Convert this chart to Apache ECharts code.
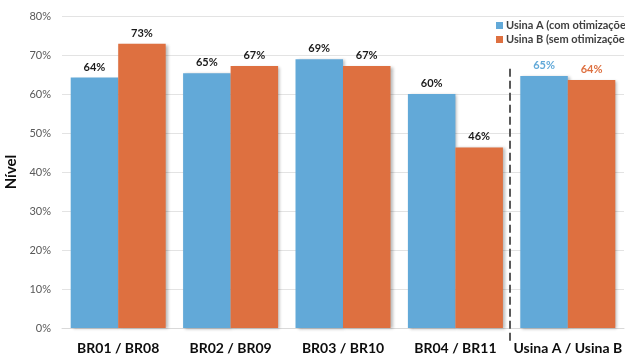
<!DOCTYPE html>
<html>
<head>
<meta charset="utf-8">
<script src="https://cdn.jsdelivr.net/npm/echarts@6/dist/echarts.min.js"></script>
<style>
  html, body { margin: 0; padding: 0; background: #fff; }
  #chart { width: 625px; height: 358px; }
</style>
</head>
<body>
<div id="chart"></div>
<script>
// Categories and series values (percent)
const categories = ['BR01 / BR08', 'BR02 / BR09', 'BR03 / BR10', 'BR04 / BR11', 'Usina A / Usina B'];
const seriesNames = ['Usina A (com otimizações)', 'Usina B (sem otimizações)'];
const usinaA = [64.2, 65.3, 68.9, 60.0, 64.6];
const usinaB = [72.9, 67.2, 67.2, 46.3, 63.6];
const yTicks = [0, 10, 20, 30, 40, 50, 60, 70, 80];

const BLUE = '#62A9D8';
const ORANGE = '#DE7040';
const FONT = 'Lato';

const chart = echarts.init(document.getElementById('chart'), null, { renderer: 'canvas' });

// Totals column gets its value labels in the series colour
function makeData(values, color) {
  return values.map((v, i) => ({
    value: v,
    label: { color: i === values.length - 1 ? color : '#1a1a1a' }
  }));
}

const barStyle = color => ({
  color: color,
  shadowColor: 'rgba(0,0,0,0.28)',
  shadowBlur: 3,
  shadowOffsetX: 2,
  shadowOffsetY: 1
});

const commonLabel = {
  show: true,
  position: 'top',
  distance: 5,
  formatter: p => Math.round(p.value) + '%',
  fontFamily: FONT,
  fontWeight: 'bold',
  fontSize: 11
};

chart.setOption({
  animation: false,
  backgroundColor: '#fff',
  textStyle: { fontFamily: FONT },
  grid: { left: 62, right: 1, top: 16, bottom: 30, containLabel: false, outerBoundsMode: 'none' },
  legend: {
    data: seriesNames,
    orient: 'vertical',
    left: 496,
    top: 20,
    itemWidth: 7,
    itemHeight: 7,
    itemGap: 3,
    icon: 'rect',
    backgroundColor: '#fff',
    padding: [0, 0, 0, 0],
    textStyle: { fontFamily: FONT, fontSize: 11, fontWeight: 'bold', color: '#404040', padding: [0, 0, 0, -2] }
  },
  xAxis: {
    type: 'category',
    data: categories,
    axisLine: { show: true, lineStyle: { color: '#d9d9d9', width: 1 } },
    axisTick: { show: false },
    axisLabel: { fontFamily: FONT, fontSize: 14, fontWeight: 'bold', color: '#0d0d0d', margin: 13, interval: 0 }
  },
  yAxis: {
    type: 'value',
    min: yTicks[0],
    max: yTicks[yTicks.length - 1],
    interval: yTicks[1] - yTicks[0],
    name: 'Nível',
    nameLocation: 'middle',
    nameGap: 41,
    nameRotate: 90,
    nameTextStyle: { fontFamily: FONT, fontSize: 15, fontWeight: 'bold', color: '#0d0d0d' },
    axisLine: { show: false },
    axisTick: { show: false },
    splitLine: { lineStyle: { color: '#e3e3e3', width: 1 } },
    axisLabel: { formatter: v => v + '%', fontFamily: FONT, fontSize: 11, color: '#595959', margin: 11 }
  },
  series: [
    {
      name: seriesNames[0],
      type: 'bar',
      data: makeData(usinaA, BLUE),
      barWidth: 47.5,
      barGap: '0%',
      itemStyle: barStyle(BLUE),
      label: commonLabel,
      z: 2
    },
    {
      name: seriesNames[1],
      type: 'bar',
      data: makeData(usinaB, ORANGE),
      barWidth: 47.5,
      barGap: '0%',
      itemStyle: barStyle(ORANGE),
      label: commonLabel,
      z: 2
    }
  ]
});

// Dashed separator between the per-pair groups and the plant totals
function drawSeparator() {
  const last = categories[categories.length - 1];
  const prev = categories[categories.length - 2];
  const xLast = chart.convertToPixel({ xAxisIndex: 0 }, last);
  const xPrev = chart.convertToPixel({ xAxisIndex: 0 }, prev);
  const x = Math.round((xLast + xPrev) / 2) - 2;
  const yTop = chart.convertToPixel({ yAxisIndex: 0 }, 66.5);
  const yBase = chart.convertToPixel({ yAxisIndex: 0 }, 0);
  chart.setOption({
    graphic: [{
      type: 'line',
      shape: { x1: x, y1: yTop, x2: x, y2: yBase + 13 },
      style: { stroke: '#595959', lineWidth: 2, lineDash: [8, 4] },
      z: 10
    }]
  });
}
drawSeparator();
</script>
</body>
</html>
